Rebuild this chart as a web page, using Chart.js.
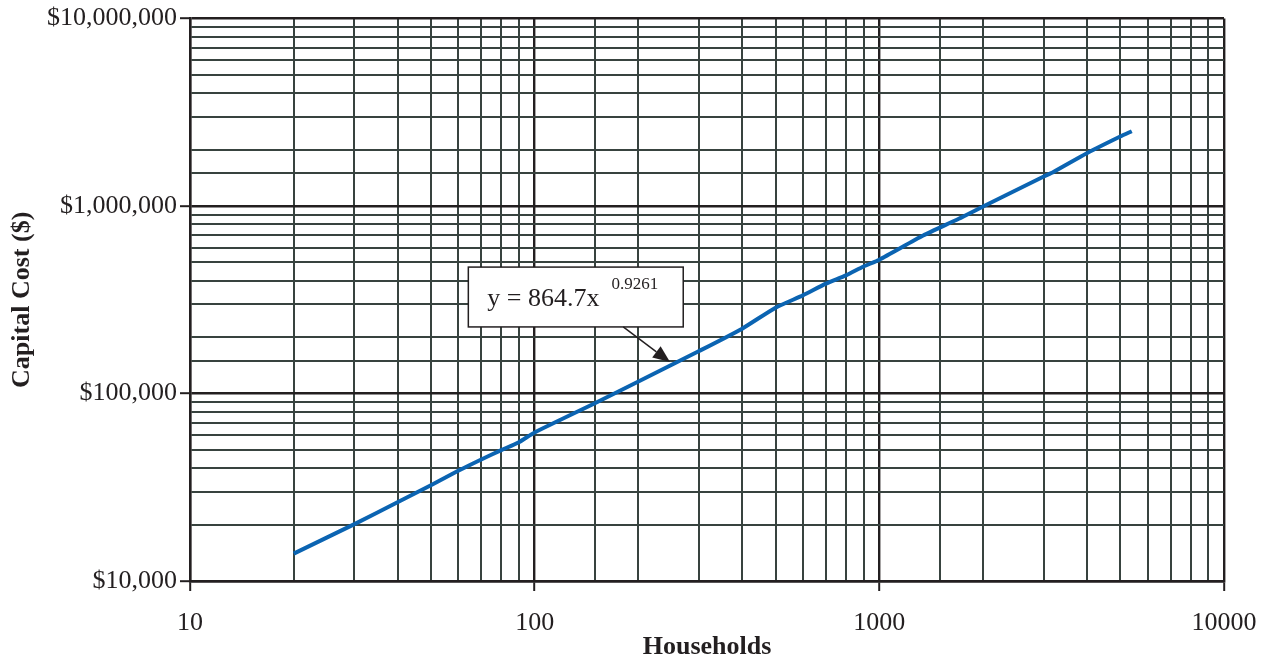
<!DOCTYPE html>
<html>
<head>
<meta charset="utf-8">
<script src="https://cdn.jsdelivr.net/npm/chart.js@4/dist/chart.umd.min.js"></script>
<style>
  html, body { margin: 0; padding: 0; background: #fff; }
</style>
</head>
<body>
<canvas id="chart" width="1274" height="664"></canvas>
<script>
// values (log-log)
const households = [20, 30, 40, 50, 60, 70, 80, 90, 100, 150, 200, 300, 400, 500, 600, 700, 800, 900, 1000, 1340, 1700, 2000, 3000, 3200, 4000, 5000, 5400];
const capitalCost = [14000, 20100, 26300, 32400, 38700, 44500, 49900, 55000, 62000, 89000, 116000, 168600, 221900, 287000, 334000, 385600, 426800, 476000, 517500, 696000, 855000, 995000, 1438000, 1521000, 1914000, 2350000, 2506000];

const xRange = [10, 10000];
const yRange = [10000, 10000000];

// trendline label: box corners and arrow, in data units
const fitText = "y = 864.7x";
const fitExponent = "0.9261";
const boxFrom = { x: 64.2, y: 472600 };
const boxTo = { x: 269.8, y: 226600 };
const arrowFrom = { x: 180.7, y: 226600 };
const arrowTo = { x: 247, y: 147300 };

const ink = "#231f20";
const minorGrid = "#38433f";
const serif = "'Liberation Serif', 'Times New Roman', serif";

function isDecade(v) {
  const l = Math.log10(v);
  return Math.abs(l - Math.round(l)) < 1e-6;
}

const gridOpts = {
  color: c => isDecade(c.tick.value) ? ink : minorGrid,
  lineWidth: c => isDecade(c.tick.value) ? 2.4 : 2,
  tickColor: c => isDecade(c.tick.value) ? ink : "rgba(0,0,0,0)",
  tickLength: 10,
  tickWidth: 2,
  drawTicks: true
};

const fitLabel = {
  id: "fitLabel",
  afterDatasetsDraw(chart) {
    const { ctx, scales: { x, y } } = chart;
    const l = x.getPixelForValue(boxFrom.x), r = x.getPixelForValue(boxTo.x);
    const t = y.getPixelForValue(boxFrom.y), b = y.getPixelForValue(boxTo.y);
    ctx.save();
    ctx.fillStyle = "#fff";
    ctx.fillRect(l, t, r - l, b - t);
    ctx.strokeStyle = ink;
    ctx.lineWidth = 1.5;
    ctx.strokeRect(l, t, r - l, b - t);

    ctx.fillStyle = ink;
    ctx.textBaseline = "alphabetic";
    ctx.textAlign = "left";
    ctx.font = "26px " + serif;
    ctx.fillText(fitText, l + 19, b - 21);
    const w = ctx.measureText(fitText).width;
    ctx.font = "17px " + serif;
    ctx.fillText(fitExponent, l + 19 + w + 12, b - 38);

    // arrow
    const x0 = x.getPixelForValue(arrowFrom.x), y0 = y.getPixelForValue(arrowFrom.y);
    const x1 = x.getPixelForValue(arrowTo.x), y1 = y.getPixelForValue(arrowTo.y);
    const ang = Math.atan2(y1 - y0, x1 - x0);
    const len = 17, half = 7;
    const bx = x1 - len * Math.cos(ang), by = y1 - len * Math.sin(ang);
    ctx.lineWidth = 1.5;
    ctx.beginPath();
    ctx.moveTo(x0, y0);
    ctx.lineTo(bx, by);
    ctx.stroke();
    ctx.beginPath();
    ctx.moveTo(x1, y1);
    ctx.lineTo(bx + half * Math.sin(ang), by - half * Math.cos(ang));
    ctx.lineTo(bx - half * Math.sin(ang), by + half * Math.cos(ang));
    ctx.closePath();
    ctx.fill();
    ctx.restore();
  }
};

new Chart(document.getElementById("chart"), {
  type: "scatter",
  data: {
    datasets: [{
      data: households.map((h, i) => ({ x: h, y: capitalCost[i] })),
      showLine: true,
      borderColor: "#0b64b2",
      borderWidth: 4,
      pointRadius: 0,
      tension: 0.2
    }]
  },
  options: {
    responsive: false,
    animation: false,
    layout: { padding: { top: 18, right: 50, left: 0, bottom: 0 } },
    plugins: {
      legend: { display: false },
      tooltip: { enabled: false }
    },
    scales: {
      x: {
        type: "logarithmic",
        min: xRange[0],
        max: xRange[1],
        grid: gridOpts,
        border: { color: ink, width: 2.4 },
        ticks: {
          autoSkip: false,
          maxRotation: 0,
          padding: 17,
          color: ink,
          font: { family: serif, size: 26 },
          callback: v => isDecade(v) ? String(v) : ""
        },
        title: {
          display: true,
          text: "Households",
          color: ink,
          font: { family: serif, size: 26, weight: "bold" },
          padding: { top: 0, bottom: 1 }
        },
        afterFit: s => { s.height = 83; }
      },
      y: {
        type: "logarithmic",
        min: yRange[0],
        max: yRange[1],
        grid: gridOpts,
        border: { color: ink, width: 2.4 },
        ticks: {
          autoSkip: false,
          padding: 3,
          color: ink,
          font: { family: serif, size: 26 },
          callback: v => isDecade(v) ? "$" + v.toLocaleString("en-US") : ""
        },
        title: {
          display: true,
          text: "Capital Cost ($)",
          color: ink,
          font: { family: serif, size: 26, weight: "bold" },
          padding: { top: 7, bottom: 0 }
        },
        afterFit: s => { s.width = 190; }
      }
    }
  },
  plugins: [fitLabel]
});
</script>
</body>
</html>
